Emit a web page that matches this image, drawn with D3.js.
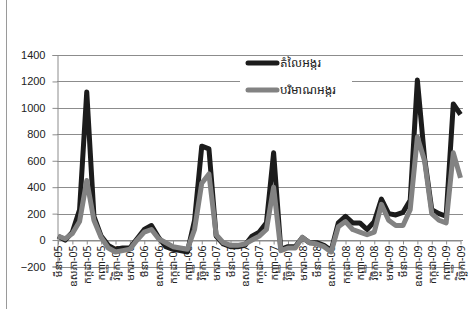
<!DOCTYPE html>
<meta charset="utf-8">
<script src="https://d3js.org/d3.v7.min.js"></script>
<style>
body { margin: 0; background: #fff; }
text { font-family: "Noto Sans Khmer", "Khmer OS", "DejaVu Sans", sans-serif; }
.ynum { font-family: "Liberation Sans", Arial, sans-serif; font-size: 11px; fill: #222; }
</style>
<div id="chart"></div>
<script>
// khmer month names, Jan..Dec
var monthNames = ["មករា","កុម្ភៈ","មីនា","មេសា","ឧសភា","មិថុនា","កក្កដា","សីហា","កញ្ញា","តុលា","វិច្ឆិកា","ធ្នូ"];
var yearTags = ["05","06","07","08","09"];
var seriesNames = ["តំលៃអង្ករ", "បរិមាណអង្ករ"];

// monthly values, Mar-05 .. Nov-09
var price = [30,0,60,230,1120,180,30,-40,-70,-60,-60,10,80,110,20,-50,-70,-80,-90,150,
  710,690,30,-30,-50,-50,-40,30,60,130,660,-70,-50,-50,20,-20,-20,-40,-80,130,
  180,130,130,80,140,310,200,190,210,300,1210,620,230,200,180,1030,950];
var quantity = [30,10,50,140,450,150,20,-60,-90,-80,-70,0,60,80,10,-20,-50,-60,-70,80,
  430,500,40,-20,-40,-40,-30,0,30,80,400,-80,-60,-60,20,-20,-30,-50,-90,100,
  140,80,60,40,60,270,150,110,110,230,780,600,200,150,130,660,470];
var yTicks = [-200,0,200,400,600,800,1000,1200,1400];

// category labels built from month names
var categories = price.map(function(d, i) {
  var m = (i + 2) % 12, y = Math.floor((i + 2) / 12);
  return monthNames[m] + "-" + yearTags[y];
});

var W = 469, H = 309;
var svg = d3.select("#chart").append("svg")
  .attr("width", W).attr("height", H);

// left border of the chart area
svg.append("line").attr("x1", 6.5).attr("x2", 6.5).attr("y1", 0).attr("y2", H)
  .attr("stroke", "#9a9a9a").attr("stroke-width", 1);

var x = d3.scalePoint().domain(categories).range([58, 460.5]);
var y = d3.scaleLinear().domain([-200, 1400]).range([266.5, 55]);

// gridlines
svg.append("g").selectAll("line").data(yTicks).enter().append("line")
  .attr("x1", 57).attr("x2", 463)
  .attr("y1", function(d) { return Math.round(y(d)) + 0.5; })
  .attr("y2", function(d) { return Math.round(y(d)) + 0.5; })
  .attr("stroke", "#8c8c8c").attr("stroke-width", 1);

// value axis
var yAxis = svg.append("g").attr("transform", "translate(57.5,0)")
  .call(d3.axisLeft(y).tickValues(yTicks).tickFormat(d3.format("d")).tickSize(5).tickPadding(7));
yAxis.select(".domain").attr("stroke", "#8c8c8c");
yAxis.selectAll(".tick line").attr("stroke", "#8c8c8c");
yAxis.selectAll("text").attr("class", "ynum").attr("font-size", null).attr("font-family", null);

// category axis crosses at zero
var shown = categories.filter(function(d, i) { return i % 2 === 0; });
var xAxis = svg.append("g").attr("transform", "translate(0," + (Math.round(y(0)) + 0.5) + ")")
  .call(d3.axisBottom(x).tickValues(shown).tickSize(4).tickSizeOuter(0));
xAxis.select(".domain").attr("stroke", "#8c8c8c");
xAxis.selectAll(".tick line").attr("stroke", "#8c8c8c");
xAxis.selectAll("text")
  .attr("font-size", 10.5).attr("font-family", null).attr("fill", "#222")
  .attr("transform", "rotate(-90)")
  .attr("text-anchor", "end")
  .attr("x", -5).attr("y", 0).attr("dy", "0.35em");

// lines
var line = function(vals) {
  return d3.line()
    .x(function(d, i) { return x(categories[i]); })
    .y(function(d) { return y(d); })(vals);
};
svg.append("path").attr("d", line(price))
  .attr("fill", "none").attr("stroke", "#1c1c1c").attr("stroke-width", 5)
  .attr("stroke-linejoin", "round");
svg.append("path").attr("d", line(quantity))
  .attr("fill", "none").attr("stroke", "#828282").attr("stroke-width", 5)
  .attr("stroke-linejoin", "round");

// legend
var legend = svg.append("g");
legend.append("rect").attr("x", 240).attr("y", 57).attr("width", 112).attr("height", 44)
  .attr("fill", "#fff");
var colors = ["#1c1c1c", "#828282"];
seriesNames.forEach(function(name, i) {
  var ly = 63 + i * 27;
  legend.append("line").attr("x1", 248).attr("x2", 277).attr("y1", ly).attr("y2", ly)
    .attr("stroke", colors[i]).attr("stroke-width", 5).attr("stroke-linecap", "round");
  legend.append("text").attr("x", 280).attr("y", ly).attr("dy", "0.35em")
    .attr("font-size", 12).attr("fill", "#222").text(name);
});
</script>
